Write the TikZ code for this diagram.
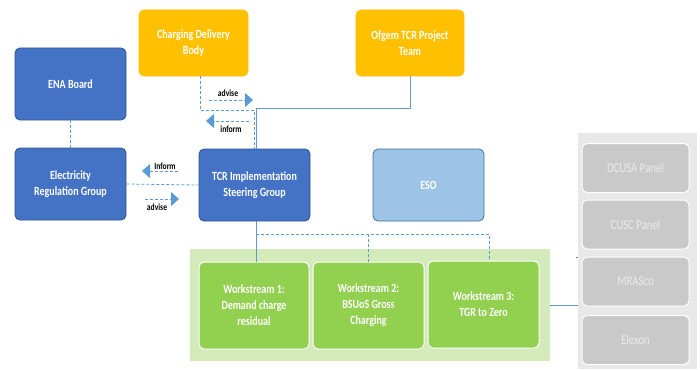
\documentclass[tikz,border=0pt]{standalone}
\usepackage{fontspec}
\setmainfont[FakeStretch=0.8]{Carlito}
\usetikzlibrary{arrows.meta,calc}
\definecolor{boxblue}{HTML}{4472C4}
\definecolor{boxblueline}{HTML}{2F528F}
\definecolor{lightblue}{HTML}{9DC3E6}
\definecolor{lightblueline}{HTML}{41719C}
\definecolor{gold}{HTML}{FFC000}
\definecolor{wsgreen}{HTML}{92D050}
\definecolor{palegreen}{HTML}{D3EABB}
\definecolor{panelgray}{HTML}{C9C9C9}
\definecolor{palegray}{HTML}{E8E8E8}
\definecolor{conn}{HTML}{5B9BD5}
\tikzset{
  box/.style={rounded corners=5pt, draw, line width=0.8pt, inner sep=0pt, align=center,
    text=white, font=\bfseries\fontsize{12.5}{16}\selectfont},
  bluebox/.style={box, fill=boxblue, draw=boxblueline, minimum width=111pt, minimum height=72pt},
  goldbox/.style={box, fill=gold, draw=gold, minimum width=109pt, minimum height=66pt},
  wsbox/.style={box, fill=wsgreen, draw=white, line width=1pt, minimum height=87pt},
  panelbox/.style={box, fill=panelgray, draw=white, line width=1pt, text=white!92!black,
    font=\fontsize{13.5}{16}\selectfont, minimum width=107pt, minimum height=49pt},
  link/.style={draw=conn, line width=0.8pt},
  dlink/.style={link, dash pattern=on 3pt off 2pt},
  arr/.style={dlink, -{Triangle[length=8pt,width=14pt]}},
  lbl/.style={font=\bfseries\fontsize{9.5}{10}\selectfont, text=black, inner sep=0pt}
}
\begin{document}
\begin{tikzpicture}[x=1pt,y=-1pt]
\useasboundingbox (0,0) rectangle (700,369);

% containers
\node[fill=palegreen, minimum width=360pt, minimum height=112pt, inner sep=0pt] (wsgroup) at (370,305) {};
\node[fill=palegray, minimum width=119pt, minimum height=236pt, inner sep=0pt] (panelgroup) at (637.5,251) {};

% main boxes
\node[bluebox] (ena) at (70.5,84) {ENA Board};
\node[goldbox] (cdb) at (193.5,43) {Charging Delivery\\Body};
\node[goldbox, minimum width=108pt] (ofgem) at (410,43) {Ofgem TCR Project\\Team};
\node[bluebox] (erg) at (70.5,184) {Electricity\\Regulation Group};
\node[bluebox] (isg) at (254.5,185) {TCR Implementation\\Steering Group};
\node[box, fill=lightblue, draw=lightblueline, minimum width=111pt, minimum height=72pt] (eso) at (428.5,185) {ESO};

% workstreams
\node[wsbox, minimum width=110pt] (ws1) at (254,305.5) {Workstream 1:\\Demand charge\\residual};
\node[wsbox, minimum width=111pt] (ws2) at (368.5,305.5) {Workstream 2:\\BSUoS Gross\\Charging};
\node[wsbox, minimum width=111pt] (ws3) at (483.5,304.5) {Workstream 3:\\TGR to Zero};

% panels
\node[panelbox] (dcusa) at (635.5,168) {DCUSA Panel};
\node[panelbox] (cusc) at (635.5,224.5) {CUSC Panel};
\node[panelbox] (mrasco) at (635.5,281.5) {MRASco};
\node[panelbox] (elexon) at (635.5,340) {Elexon};

% connectors
\draw[dlink] (ena.south) -- (erg.north);
\draw[dlink] ([xshift=6.5pt]cdb.south) -- ++(0,34) -| (isg.north);
\draw[link] (ofgem.south) -- ++(0,32) -| ([xshift=2pt]isg.north);
\draw[dlink] (erg.east) -- (isg.west);
\draw[link] ([xshift=1.5pt]isg.south) -- ([xshift=2pt]ws1.north);
\coordinate (bj) at (256,234);
\draw[dlink] (bj) -| ([xshift=5.5pt]ws3.north);
\draw[dlink] (ws2.north |- bj) -- (ws2.north);
\draw[link] (wsgroup.east) -- (panelgroup.west |- wsgroup.east);
\coordinate (tick) at (576,257);
\draw[link] (tick) -- (panelgroup.west |- tick);

% advise / inform arrows
\coordinate (a1s) at (209,100); \coordinate (a1e) at (253,100);
\draw[arr] (a1s) -- (a1e);
\node[lbl] (a1l) at (228,93) {advise};
\coordinate (i1s) at (249,121); \coordinate (i1e) at (206,121);
\draw[arr] (i1s) -- (i1e);
\node[lbl] (i1l) at (231,129) {inform};
\coordinate (i2s) at (178,171); \coordinate (i2e) at (142,171);
\draw[arr] (i2s) -- (i2e);
\node[lbl] (i2l) at (165,166) {Inform};
\coordinate (a2s) at (145,199); \coordinate (a2e) at (179,199);
\draw[arr] (a2s) -- (a2e);
\node[lbl] (a2l) at (157,207) {advise};
\end{tikzpicture}
\end{document}
